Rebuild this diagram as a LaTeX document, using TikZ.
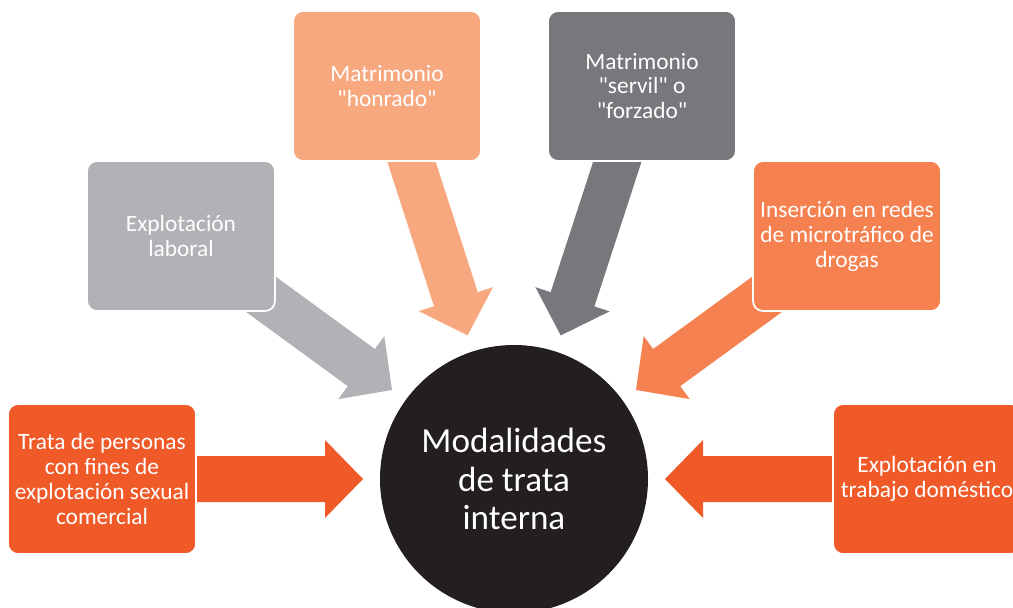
\documentclass[tikz,border=0pt]{standalone}
\usepackage{fontspec}
\setmainfont{Carlito}
\usetikzlibrary{calc, backgrounds}

\definecolor{redorange}{HTML}{F05A28}
\definecolor{lightgray}{HTML}{B1B2B5}
\definecolor{salmon}{HTML}{F7A87E}
\definecolor{darkgray}{HTML}{77787C}
\definecolor{softorange}{HTML}{F4814F}
\definecolor{nearblack}{HTML}{231F20}

\newcommand{\q}{\textquotedbl}

% block arrow from a box to the circle
\newcommand{\bigarrow}[2]{%
  \coordinate (tip) at ($(mod)!3.02cm!(#1)$);
  \coordinate (base) at ($(tip)!0.76cm!(#1)$);
  \fill[#2] (tip) -- ($(base)!0.78cm!90:(tip)$) -- ($(base)!0.46cm!90:(tip)$)
    -- ($(#1)!0.46cm!90:(tip)$) -- ($(#1)!0.46cm!-90:(tip)$)
    -- ($(base)!0.46cm!-90:(tip)$) -- ($(base)!0.78cm!-90:(tip)$) -- cycle;
}

\begin{document}
\begin{tikzpicture}[
    box/.style = {rectangle, rounded corners = 0.2cm, draw = white, line width = 1pt,
                  minimum width = 3.76cm, minimum height = 3cm, align = center,
                  text = white, font = \fontsize{13.3}{14.2}\selectfont}]

\useasboundingbox (0, 0) rectangle (20.26, 12.14);
\clip (0, 0) rectangle (20.26, 12.14);

\node[circle, fill = nearblack, minimum size = 5.36cm, text = white, align = center,
      font = \fontsize{20}{22}\selectfont] (mod) at (10.28, 2.56) {Modalidades\\de trata\\interna};

\node[box, fill = redorange] (sexual) at (2.04, 2.56) {Trata de personas\\con fines de\\explotación sexual\\comercial};
\node[box, fill = lightgray] (laboral) at (3.62, 7.42) {Explotación\\laboral};
\node[box, fill = salmon] (honrado) at (7.74, 10.42) {Matrimonio\\\q honrado\q};
\node[box, fill = darkgray] (servil) at (12.84, 10.42) {Matrimonio\\\q servil\q{} o\\\q forzado\q};
\node[box, fill = softorange] (drogas) at (16.94, 7.42) {Inserción en redes\\de microtráfico de\\drogas};
\node[box, fill = redorange] (domestico) at (18.54, 2.56) {Explotación en\\trabajo doméstico};

% Arrows
\begin{pgfonlayer}{background}
\bigarrow{sexual}{redorange}
\bigarrow{laboral}{lightgray}
\bigarrow{honrado}{salmon}
\bigarrow{servil}{darkgray}
\bigarrow{drogas}{softorange}
\bigarrow{domestico}{redorange}
\end{pgfonlayer}

\end{tikzpicture}
\end{document}
